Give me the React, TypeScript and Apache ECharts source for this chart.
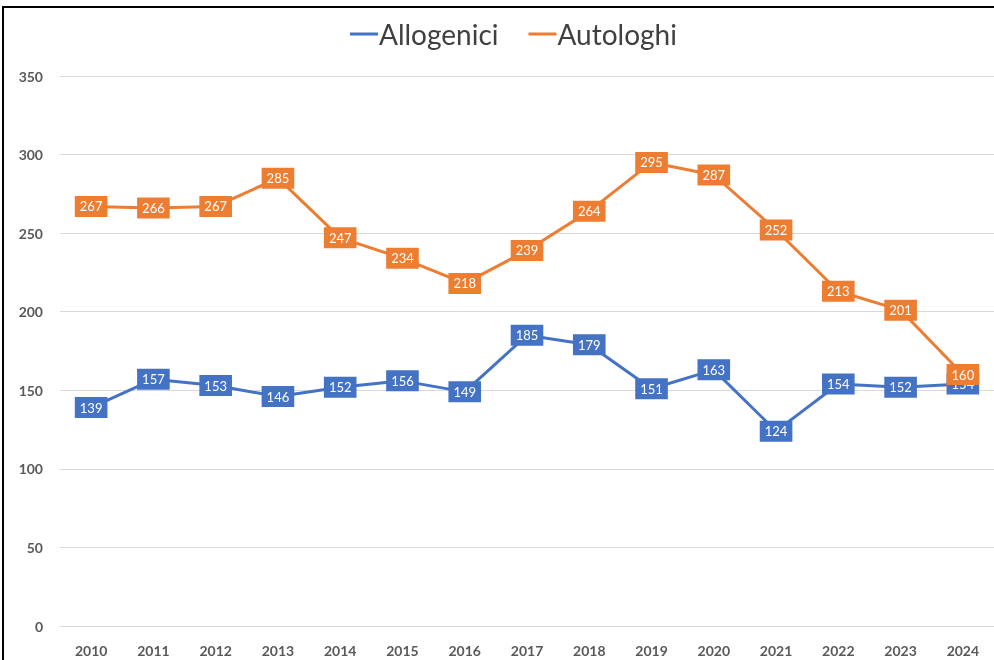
import React, { useEffect, useRef } from "react";
import * as echarts from "echarts";

const years = ["2010","2011","2012","2013","2014","2015","2016","2017","2018","2019","2020","2021","2022","2023","2024"];
const allogenici = [139,157,153,146,152,156,149,185,179,151,163,124,154,152,154];
const autologhi = [267,266,267,285,247,234,218,239,264,295,287,252,213,201,160];
const seriesNames = ["Allogenici", "Autologhi"];
const colors = ["#4472C4", "#ED7D31"];

const FONT = "Lato, 'Noto Sans', sans-serif";

export default function App() {
  const ref = useRef<HTMLDivElement>(null);
  useEffect(() => {
    document.body.style.margin = "0";
    const chart = echarts.init(ref.current!, null, { renderer: "svg" });
    const mkSeries = (name: string, data: number[], color: string) => ({
      name,
      type: "line",
      data,
      symbol: "circle",
      symbolSize: 0.1,
      showSymbol: true,
      lineStyle: { color, width: 3 },
      itemStyle: { color },
      label: {
        show: true,
        position: "inside",
        backgroundColor: color,
        color: "#fff",
        fontFamily: FONT,
        fontSize: 13,
        padding: [4, 5, 4, 5],
      },
      labelLayout: { hideOverlap: false },
    });
    chart.setOption({
      animation: false,
      color: colors,
      legend: {
        top: 15,
        left: 345,
        data: seriesNames,
        icon: "rect",
        itemWidth: 28,
        itemHeight: 3,
        itemGap: 30,
        textStyle: { fontFamily: FONT, fontSize: 28, color: "#404040", padding: [0, 0, 0, -4] },
      },
      grid: { left: 60, top: 76, width: 941, height: 550, containLabel: false },
      xAxis: {
        type: "category",
        data: years,
        boundaryGap: true,
        axisLine: { show: false },
        axisTick: { show: false },
        axisLabel: { fontFamily: FONT, fontSize: 14, fontWeight: "bold", color: "#595959", margin: 17 },
      },
      yAxis: {
        type: "value",
        min: 0,
        max: 350,
        interval: 50,
        axisLine: { show: false },
        axisTick: { show: false },
        splitLine: { lineStyle: { color: "#D9D9D9", width: 1 } },
        axisLabel: { fontFamily: FONT, fontSize: 14, fontWeight: "bold", color: "#595959", margin: 17 },
      },
      graphic: [
        {
          type: "rect",
          shape: { x: 3, y: 7, width: 1000, height: 700 },
          style: { fill: "none", stroke: "#000", lineWidth: 2 },
          silent: true,
        },
      ],
      series: [
        mkSeries(seriesNames[0], allogenici, colors[0]),
        mkSeries(seriesNames[1], autologhi, colors[1]),
      ],
    });
    return () => chart.dispose();
  }, []);
  return <div ref={ref} style={{ position: "fixed", left: 0, top: 0, width: 994, height: 660 }} />;
}
